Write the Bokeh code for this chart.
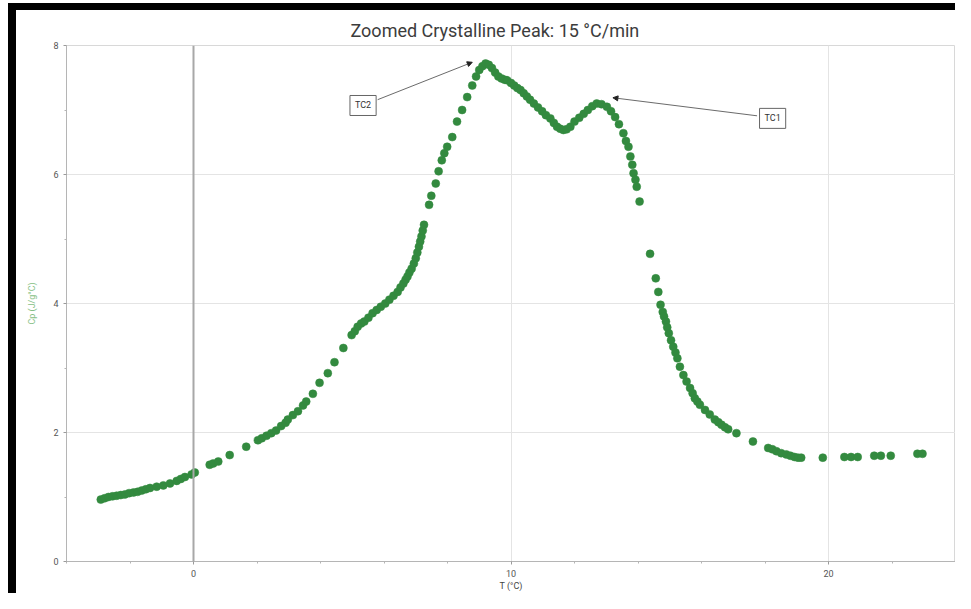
from bokeh.plotting import figure
from bokeh.layouts import column, row
from bokeh.models import (ColumnDataSource, FixedTicker, Span, Label, Arrow,
                          NormalHead, Range1d, Div, Spacer)
from bokeh.embed import file_html
from bokeh.resources import INLINE

# ---- data ----
T = [-2.92, -2.80, -2.68, -2.55, -2.42, -2.29, -2.16, -2.03, -1.89, -1.76,
     -1.63, -1.50, -1.37, -1.16, -0.95, -0.74, -0.53, -0.40, -0.27, -0.06,
     0.04, 0.51, 0.62, 0.78, 1.14, 1.66, 2.03, 2.15, 2.30, 2.45,
     2.60, 2.76, 2.90, 2.97, 3.13, 3.29, 3.45, 3.55, 3.76, 3.97,
     4.23, 4.44, 4.72, 4.98, 5.08, 5.17, 5.28, 5.38, 5.51, 5.64,
     5.77, 5.90, 6.04, 6.17, 6.30, 6.43, 6.52, 6.61, 6.68, 6.74,
     6.80, 6.87, 6.94, 7.00, 7.05, 7.10, 7.14, 7.18, 7.22, 7.26,
     7.42, 7.49, 7.63, 7.72, 7.82, 7.90, 7.99, 8.15, 8.30, 8.46,
     8.62, 8.78, 8.90, 9.00, 9.10, 9.20, 9.30, 9.40, 9.50, 9.60,
     9.70, 9.80, 9.88, 10.00, 10.10, 10.20, 10.30, 10.40, 10.50, 10.60,
     10.72, 10.85, 10.98, 11.10, 11.24, 11.35, 11.45, 11.55, 11.65, 11.75,
     11.87, 12.00, 12.15, 12.29, 12.42, 12.56, 12.70, 12.85, 13.02, 13.15,
     13.28, 13.40, 13.54, 13.62, 13.70, 13.76, 13.82, 13.86, 13.92, 13.96,
     14.05, 14.38, 14.56, 14.64, 14.71, 14.78, 14.82, 14.88, 14.92, 14.97,
     15.04, 15.11, 15.18, 15.24, 15.32, 15.43, 15.53, 15.64, 15.72, 15.79,
     15.87, 15.95, 16.11, 16.26, 16.42, 16.53, 16.63, 16.74, 16.84, 17.10,
     17.62, 18.10, 18.23, 18.36, 18.51, 18.67, 18.80, 18.93, 19.04, 19.14,
     19.82, 20.50, 20.71, 20.92, 21.44, 21.65, 21.96, 22.80, 22.96]
Cp = [0.96, 0.98, 1.00, 1.01, 1.02, 1.03, 1.04, 1.06, 1.07, 1.08,
      1.10, 1.12, 1.14, 1.16, 1.18, 1.21, 1.25, 1.28, 1.31, 1.35,
      1.38, 1.50, 1.52, 1.55, 1.65, 1.78, 1.88, 1.91, 1.95, 1.99,
      2.03, 2.10, 2.15, 2.20, 2.27, 2.33, 2.42, 2.48, 2.60, 2.77,
      2.92, 3.09, 3.31, 3.51, 3.57, 3.64, 3.69, 3.72, 3.78, 3.85,
      3.90, 3.95, 4.00, 4.06, 4.12, 4.18, 4.25, 4.31, 4.37, 4.42,
      4.48, 4.54, 4.62, 4.70, 4.79, 4.88, 4.96, 5.04, 5.13, 5.22,
      5.53, 5.67, 5.86, 6.05, 6.22, 6.33, 6.43, 6.58, 6.82, 7.00,
      7.20, 7.38, 7.52, 7.62, 7.68, 7.72, 7.70, 7.65, 7.58, 7.52,
      7.49, 7.47, 7.46, 7.42, 7.38, 7.34, 7.31, 7.26, 7.21, 7.16,
      7.10, 7.04, 6.98, 6.92, 6.87, 6.80, 6.74, 6.71, 6.69, 6.70,
      6.74, 6.82, 6.88, 6.94, 7.00, 7.06, 7.10, 7.09, 7.05, 6.98,
      6.89, 6.78, 6.64, 6.52, 6.43, 6.28, 6.15, 6.02, 5.92, 5.81,
      5.58, 4.77, 4.39, 4.18, 3.98, 3.87, 3.80, 3.72, 3.63, 3.54,
      3.43, 3.33, 3.24, 3.15, 3.02, 2.89, 2.79, 2.69, 2.61, 2.53,
      2.48, 2.43, 2.35, 2.28, 2.20, 2.16, 2.12, 2.08, 2.05, 1.99,
      1.86, 1.76, 1.74, 1.71, 1.68, 1.66, 1.64, 1.62, 1.61, 1.61,
      1.61, 1.62, 1.62, 1.62, 1.64, 1.64, 1.64, 1.67, 1.67]

x_major = [0, 10, 20]
x_minor = [-4, -2, 2, 4, 6, 8, 12, 14, 16, 18, 22, 24]
y_major = [0, 2, 4, 6, 8]
y_minor = [1, 3, 5, 7]

title_text = "Zoomed Crystalline Peak: 15 \u00b0C/min"
x_label = "T (\u00b0C)"
y_label = "Cp (J/g\u00b0C)"

# annotations: label, box centre, arrow start, arrow tip (data units)
ann_labels = ["TC2", "TC1"]
ann_box_x = [5.34, 18.24]
ann_box_y = [7.07, 6.87]
ann_start_x = [5.80, 17.75]
ann_start_y = [7.16, 6.91]
ann_tip_x = [8.78, 13.21]
ann_tip_y = [7.74, 7.19]

FONT = "Roboto"
PW, PH = 939, 583

p = figure(width=PW, height=PH, output_backend="svg", toolbar_location=None,
           x_range=Range1d(-4, 24), y_range=Range1d(0, 8),
           min_border_left=50, min_border_right=0, min_border_top=35,
           min_border_bottom=31)

p.title.text = title_text
p.title.align = "left"
p.title.offset = 284
p.title.text_font = FONT
p.title.text_font_size = "18px"
p.title.text_font_style = "normal"
p.title.text_color = "#3c3c3c"
p.title.standoff = 10

p.outline_line_color = "#d8d8d8"

p.xaxis.ticker = FixedTicker(ticks=x_major, minor_ticks=x_minor)
p.yaxis.ticker = FixedTicker(ticks=y_major, minor_ticks=y_minor)

for ax in (p.xaxis[0], p.yaxis[0]):
    ax.axis_line_color = "#b5b5b5"
    ax.major_tick_line_color = "#9a9a9a"
    ax.minor_tick_line_color = "#b5b5b5"
    ax.major_tick_out = 3
    ax.major_tick_in = 0
    ax.minor_tick_out = 2
    ax.minor_tick_in = 0
    ax.major_label_text_font = FONT
    ax.major_label_text_font_size = "9px"
    ax.major_label_text_color = "#555555"
    ax.axis_label_text_font = FONT
    ax.axis_label_text_font_size = "9px"
    ax.axis_label_text_font_style = "normal"

p.xaxis.axis_label = x_label
p.xaxis.axis_label_text_color = "#444444"
p.xaxis.major_label_standoff = 5
p.xaxis.axis_label_standoff = 1

p.yaxis.axis_label = y_label
p.yaxis.axis_label_text_color = "#86bf86"
p.yaxis.major_label_standoff = 5
p.yaxis.axis_label_standoff = 13

p.xgrid.grid_line_color = "#e4e4e4"
p.ygrid.grid_line_color = "#e4e4e4"
p.xgrid.ticker = FixedTicker(ticks=x_major)
p.ygrid.ticker = FixedTicker(ticks=y_major)

p.add_layout(Span(location=0, dimension="height", line_color="#a8a8a8",
                  line_width=2))

src = ColumnDataSource(dict(T=T, Cp=Cp))
p.scatter("T", "Cp", source=src, size=8, fill_color="#338a3f",
          line_color="#338a3f", line_width=0.5)

for i, lab in enumerate(ann_labels):
    p.add_layout(Arrow(end=NormalHead(size=5, fill_color="#222222",
                                      line_color="#222222"),
                       x_start=ann_start_x[i], y_start=ann_start_y[i],
                       x_end=ann_tip_x[i], y_end=ann_tip_y[i],
                       line_color="#444444", line_width=0.8))
    p.add_layout(Label(x=ann_box_x[i], y=ann_box_y[i], text=lab,
                       text_align="center", text_baseline="middle",
                       text_font=FONT, text_font_size="9px",
                       text_color="#333333",
                       border_line_color="#666666", border_line_width=1,
                       background_fill_color="white", padding=5))


def band(w, h):
    return Div(text="", width=w, height=h, margin=0,
               styles={"background-color": "black"})


layout = row(
    Spacer(width=8, height=10, margin=0),
    column(Spacer(width=8 + PW, height=3, margin=0),
           band(8 + PW, 7),
           row(band(8, PH), p, spacing=0, margin=0),
           spacing=0, margin=0),
    spacing=0, margin=0)

open("out.html", "w").write(file_html(layout, INLINE))
